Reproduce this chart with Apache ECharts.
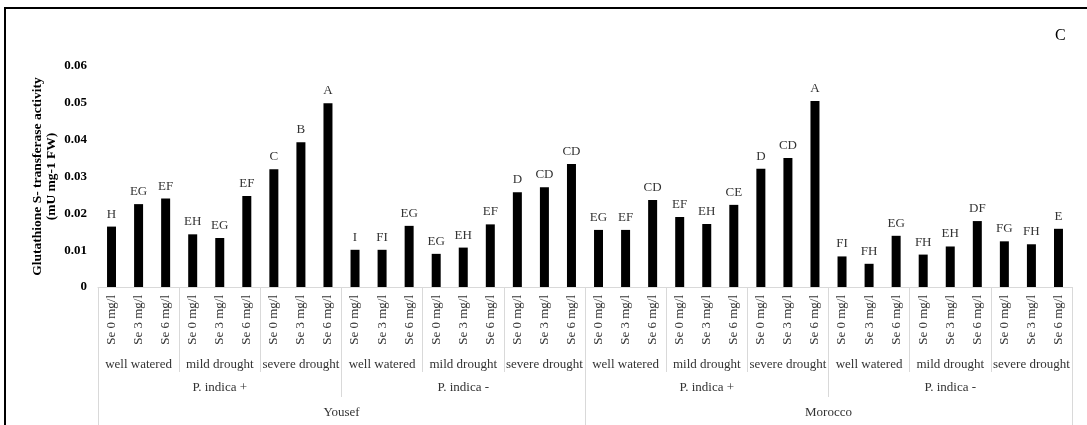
<!DOCTYPE html>
<html>
<head>
<meta charset="utf-8">
<script src="https://cdn.jsdelivr.net/npm/echarts@6/dist/echarts.min.js"></script>
<style>
  html, body { margin: 0; padding: 0; background: #fff; }
  #chart { width: 1087px; height: 425px; }
</style>
</head>
<body>
<div id="chart"></div>
<script>
// Treatment factors, innermost to outermost
const seDoses = ['Se 0 mg/l', 'Se 3 mg/l', 'Se 6 mg/l'];
const waterRegimes = ['well watered', 'mild drought', 'severe drought'];
const piStatus = ['P. indica +', 'P. indica -'];
const cultivars = ['Yousef', 'Morocco'];

// GST activity (mU mg-1 FW), one value per treatment combination
const gstValues = [
  0.0164, 0.0225, 0.0240, 0.0143, 0.0133, 0.0247, 0.0320, 0.0393, 0.0499,
  0.0101, 0.0101, 0.0166, 0.0090, 0.0107, 0.0170, 0.0257, 0.0271, 0.0334,
  0.0155, 0.0155, 0.0236, 0.0190, 0.0171, 0.0223, 0.0321, 0.0350, 0.0505,
  0.0083, 0.0063, 0.0139, 0.0088, 0.0110, 0.0179, 0.0124, 0.0116, 0.0158
];

// Significance groups shown above the bars
const sigLetters = [
  'H', 'EG', 'EF', 'EH', 'EG', 'EF', 'C', 'B', 'A',
  'I', 'FI', 'EG', 'EG', 'EH', 'EF', 'D', 'CD', 'CD',
  'EG', 'EF', 'CD', 'EF', 'EH', 'CE', 'D', 'CD', 'A',
  'FI', 'FH', 'EG', 'FH', 'EH', 'DF', 'FG', 'FH', 'E'
];

const yTicks = { min: 0, max: 0.06, interval: 0.01 };

// Expand the nested factor levels into per-axis category lists
const doseCats = [], waterCats = [], piCats = [];
cultivars.forEach(() => {
  piStatus.forEach(p => {
    piCats.push(p);
    waterRegimes.forEach(w => {
      waterCats.push(w);
      seDoses.forEach(s => doseCats.push(s));
    });
  });
});

const FONT = "'Liberation Serif', 'Times New Roman', serif";
const GRID_LINE = '#d9d9d9';
const TEXT = '#333';

function groupAxis(data, tickLen, labelMargin) {
  return {
    type: 'category',
    gridIndex: 0,
    position: 'bottom',
    data: data,
    axisLine: { show: false },
    axisTick: { show: true, interval: 0, length: tickLen, lineStyle: { color: GRID_LINE, width: 1 } },
    axisLabel: { interval: 0, margin: labelMargin, fontFamily: FONT, fontSize: 13, color: TEXT },
    splitLine: { show: false }
  };
}

const chart = echarts.init(document.getElementById('chart'), null, { renderer: 'canvas' });
chart.setOption({
  animation: false,
  backgroundColor: '#fff',
  grid: { left: 98, right: 15, top: 66, bottom: 138, outerBoundsMode: 'none', containLabel: false },
  graphic: [
    {
      type: 'polyline',
      shape: { points: [[5, 425], [5, 8], [1087, 8]] },
      style: { stroke: '#000', lineWidth: 2, fill: null },
      silent: true
    },
    {
      type: 'text',
      left: 1055, top: 28,
      style: { text: 'C', font: "16px 'Liberation Serif', serif", fill: '#000' },
      silent: true
    }
  ],
  xAxis: [
    {
      type: 'category',
      gridIndex: 0,
      position: 'bottom',
      data: doseCats,
      axisLine: { show: true, lineStyle: { color: GRID_LINE, width: 1 } },
      axisTick: { show: false },
      axisLabel: { interval: 0, rotate: 90, margin: 8, fontFamily: FONT, fontSize: 13, color: TEXT },
      splitLine: { show: false }
    },
    groupAxis(waterCats, 85, 71),
    groupAxis(piCats, 110, 94),
    groupAxis(cultivars, 140, 119)
  ],
  yAxis: {
    type: 'value',
    min: yTicks.min,
    max: yTicks.max,
    interval: yTicks.interval,
    name: 'Glutathione S- transferase activity\n(mU mg-1 FW)',
    nameLocation: 'middle',
    nameGap: 39,
    nameMoveOverlap: false,
    nameTextStyle: { fontFamily: FONT, fontSize: 13.5, fontWeight: 'bold', color: '#000', lineHeight: 14 },
    axisLine: { show: false },
    axisTick: { show: false },
    splitLine: { show: false },
    axisLabel: {
      margin: 11,
      fontFamily: FONT, fontSize: 13, fontWeight: 'bold', color: '#000',
      formatter: v => (v === 0 ? '0' : v.toFixed(2))
    }
  },
  series: [{
    type: 'bar',
    xAxisIndex: 0,
    yAxisIndex: 0,
    data: gstValues,
    barWidth: 9,
    itemStyle: { color: '#000' },
    label: {
      show: true,
      position: 'top',
      distance: 6,
      fontFamily: FONT,
      fontSize: 13,
      color: TEXT,
      formatter: p => sigLetters[p.dataIndex]
    }
  }]
});
</script>
</body>
</html>
